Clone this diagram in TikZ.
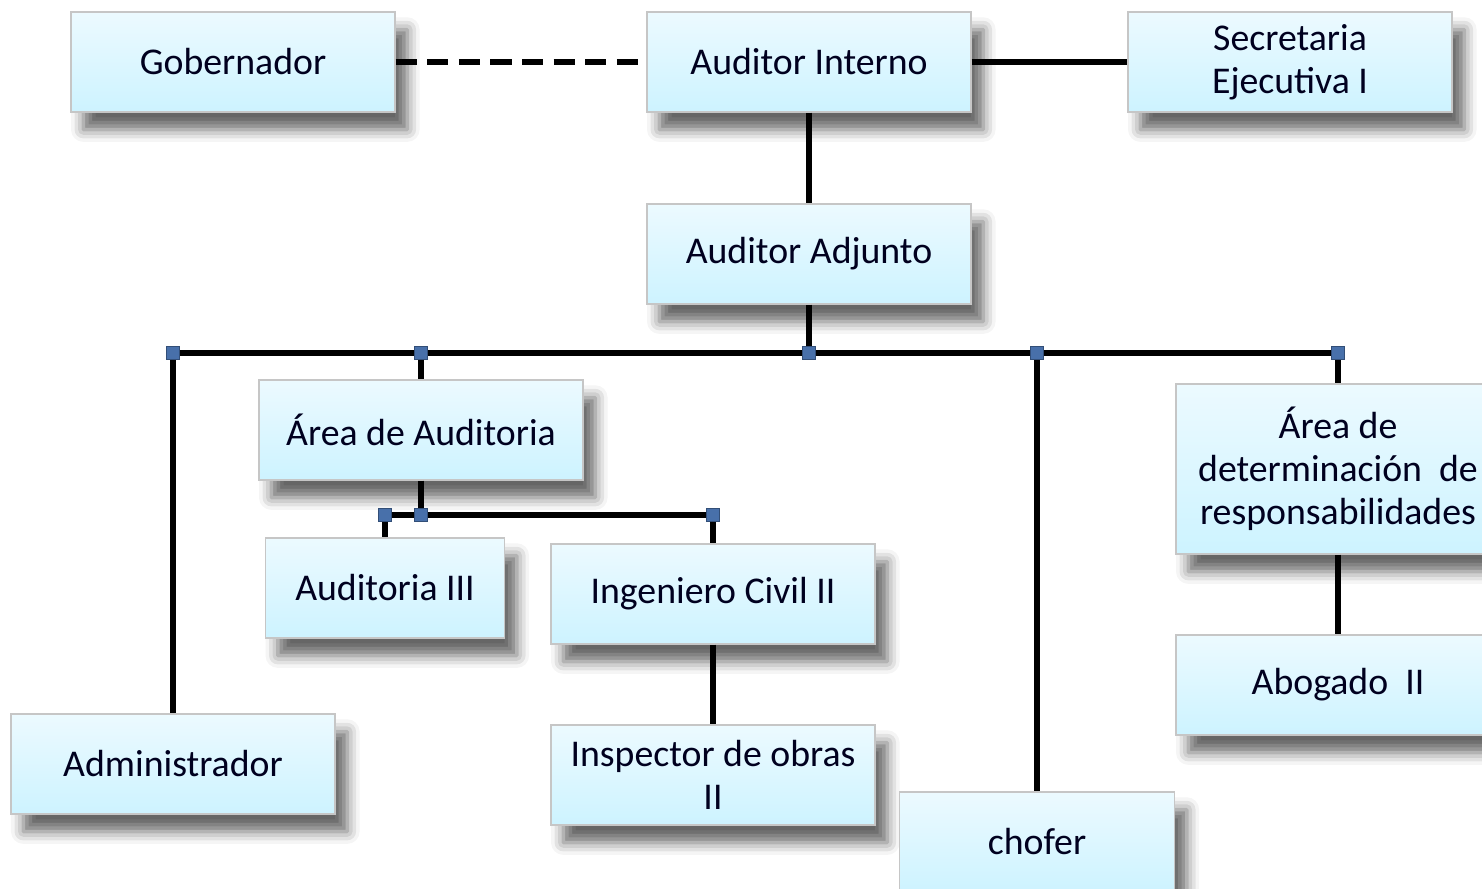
\documentclass[tikz,border=0pt]{standalone}
\usepackage{fontspec}
\setmainfont{Carlito}
\usetikzlibrary{shadows.blur}
\definecolor{boxtop}{RGB}{236,250,255}
\definecolor{boxmid}{RGB}{186,234,250}
\definecolor{boxbot}{RGB}{205,243,255}
\definecolor{jointblue}{RGB}{72,112,170}

\begin{document}
\begin{tikzpicture}
\tikzstyle{box}=[rectangle, text centered, align=center, draw=gray!45, line width=0.6pt,
  top color=boxtop, middle color=boxmid, bottom color=boxbot,
  minimum width=6.48cm, minimum height=2cm, inner sep=0pt,
  font=\fontsize{21.5}{24.5}\selectfont, text=black!88!blue,
  blur shadow={shadow xshift=7pt, shadow yshift=-10pt, shadow blur radius=7pt, shadow opacity=60}]
\tikzstyle{line}=[line width=3.2pt]
\tikzstyle{joint}=[rectangle, fill=jointblue, draw=jointblue!70!black, line width=0.5pt,
  minimum size=7.5pt, inner sep=0pt]
\useasboundingbox (0,0) rectangle (29.64,-17.78);

\node[box] (gob) at (4.66,-1.24) {Gobernador};
\node[box] (ai) at (16.18,-1.24) {Auditor Interno};
\node[box] (sec) at (25.8,-1.24) {Secretaria\\Ejecutiva I};
\node[box] (aa) at (16.18,-5.08) {Auditor Adjunto};
\node[box] (aud) at (8.42,-8.6) {Área de Auditoria};
\node[box, minimum width=4.78cm] (aud3) at (7.7,-11.76) {Auditoria III};
\node[box] (ing) at (14.26,-11.88) {Ingeniero Civil II};
\node[box] (insp) at (14.26,-15.5) {Inspector de obras\\II};
\node[box] (adm) at (3.46,-15.28) {Administrador};
\node[box, minimum width=5.5cm] (cho) at (20.74,-16.84) {chofer};
\node[box, minimum height=3.4cm] (det) at (26.76,-9.38) {Área de\\determinación~~de\\responsabilidades};
\node[box] (abo) at (26.76,-13.7) {Abogado~~II};

% puntos de union
\coordinate (b1) at (3.46,-7.06);
\coordinate (b2) at (8.42,-7.06);
\coordinate (b3) at (16.18,-7.06);
\coordinate (b4) at (20.74,-7.06);
\coordinate (b5) at (26.76,-7.06);
\coordinate (c1) at (7.7,-10.3);
\coordinate (c2) at (8.42,-10.3);
\coordinate (c3) at (14.26,-10.3);

\draw[line, dash pattern=on 12pt off 6pt] (gob) -- (ai);
\draw[line] (ai) -- (sec);
\draw[line] (ai) -- (aa);
\draw[line] (aa) -- (b3);
\draw[line] (b1) -- (b5);
\draw[line] (b1) -- (adm);
\draw[line] (b2) -- (aud);
\draw[line] (b4) -- (cho);
\draw[line] (b5) -- (det);
\draw[line] (aud) -- (c2);
\draw[line] (c1) -- (c3);
\draw[line] (c1) -- (aud3);
\draw[line] (c3) -- (ing);
\draw[line] (ing) -- (insp);
\draw[line] (det) -- (abo);

\node[joint] (q1) at (b1) {};
\node[joint] (q2) at (b2) {};
\node[joint] (q3) at (b3) {};
\node[joint] (q4) at (b4) {};
\node[joint] (q5) at (b5) {};
\node[joint] (q6) at (c1) {};
\node[joint] (q7) at (c2) {};
\node[joint] (q8) at (c3) {};
\end{tikzpicture}
\end{document}
